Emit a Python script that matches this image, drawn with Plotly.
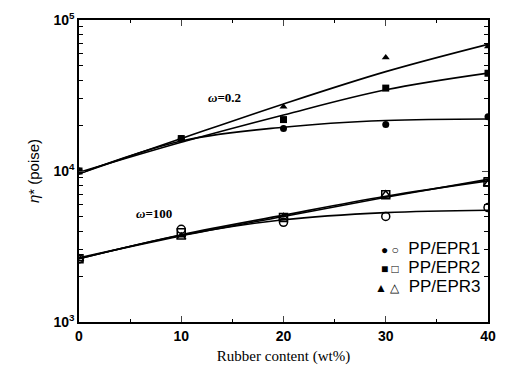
import plotly.graph_objects as go

x = [0, 10, 20, 30, 40]

# omega = 0.2 data points (filled markers)
low_epr1 = [1.0e4, 1.64e4, 1.91e4, 2.03e4, 2.29e4]
low_epr2 = [1.0e4, 1.64e4, 2.19e4, 3.54e4, 4.44e4]
low_epr3 = [1.0e4, 1.64e4, 2.66e4, 5.65e4, 6.67e4]
# omega = 0.2 fitted curves
low_fit1 = [0.96e4, 1.58e4, 1.95e4, 2.16e4, 2.21e4]
low_fit2 = [0.98e4, 1.55e4, 2.35e4, 3.45e4, 4.45e4]
low_fit3 = [0.96e4, 1.64e4, 2.78e4, 4.55e4, 6.9e4]

# omega = 100 data points (open markers)
high_epr1 = [2.62e3, 4.11e3, 4.57e3, 5.0e3, 5.73e3]
high_epr2 = [2.62e3, 3.9e3, 4.93e3, 6.97e3, 8.47e3]
high_epr3 = [2.62e3, 3.65e3, 4.93e3, 6.97e3, 8.2e3]
# omega = 100 fitted curves
high_fit1 = [2.62e3, 3.75e3, 4.75e3, 5.3e3, 5.5e3]
high_fit2 = [2.62e3, 3.78e3, 5.1e3, 6.8e3, 8.6e3]
high_fit3 = [2.66e3, 3.72e3, 5.0e3, 6.7e3, 8.8e3]

legend_labels = ["PP/EPR1", "PP/EPR2", "PP/EPR3"]
y_major = [1e3, 1e4, 1e5]
y_major_text = ["<b>10<sup>3</sup></b>", "<b>10<sup>4</sup></b>", "<b>10<sup>5</sup></b>"]
y_minor = [d * m for d in [1e3, 1e4] for m in range(2, 10)]
x_ticks = [0, 10, 20, 30, 40]

fig = go.Figure()

for fit in [low_fit1, low_fit2, low_fit3, high_fit1, high_fit2, high_fit3]:
    fig.add_trace(go.Scatter(x=x, y=fit, mode="lines",
                             line=dict(color="black", width=1.6, shape="spline", smoothing=1.0),
                             showlegend=False, hoverinfo="skip"))

filled = [("circle", low_epr1), ("square", low_epr2), ("triangle-up", low_epr3)]
for sym, ys in filled:
    fig.add_trace(go.Scatter(x=x, y=ys, mode="markers",
                             marker=dict(symbol=sym, size=7, color="black"),
                             showlegend=False))

opened = [("circle-open", high_epr1), ("square-open", high_epr2), ("triangle-up-open", high_epr3)]
for sym, ys in opened:
    fig.add_trace(go.Scatter(x=x, y=ys, mode="markers",
                             marker=dict(symbol=sym, size=8, color="black",
                                         line=dict(width=1.5, color="black")),
                             showlegend=False))

fig.update_layout(
    width=506, height=375,
    margin=dict(l=79, r=10, t=16, b=53),
    paper_bgcolor="white", plot_bgcolor="white",
    showlegend=False,
    font=dict(family="Arial, Liberation Sans", color="black"),
    xaxis=dict(range=[0, 40], tickvals=x_ticks, ticktext=[f"<b>{v}</b>" for v in x_ticks],
               ticks="inside", ticklen=6,
               tickwidth=1.2, showline=True, linecolor="black", linewidth=1.5, mirror="ticks",
               showgrid=False, zeroline=False,
               tickfont=dict(size=14, family="Liberation Sans", color="black"),
               minor=dict(dtick=5, tick0=0, ticks="inside", ticklen=3, tickcolor="black"),
               title=dict(text="Rubber content (wt%)", standoff=8,
                          font=dict(size=15, family="Liberation Serif, Times New Roman"))),
    yaxis=dict(type="log", range=[3, 5], tickvals=y_major, ticktext=y_major_text, ticks="inside",
               ticklen=6, tickwidth=1.2, showline=True, linecolor="black", linewidth=1.5,
               mirror="ticks", showgrid=False, zeroline=False,
               tickfont=dict(size=14, family="Liberation Sans", color="black"),
               minor=dict(tickvals=y_minor, ticks="inside", ticklen=4, tickcolor="black"),
               title=dict(text="<i>η</i>* (poise)", standoff=10,
                          font=dict(size=15, family="Liberation Sans"))),
)

fig.add_annotation(x=14.2, y=4.484, xref="x", yref="y", text="<b><i>ω</i>=0.2</b>",
                   showarrow=False, font=dict(size=13, family="Liberation Serif", color="black"))
fig.add_annotation(x=7.3, y=3.719, xref="x", yref="y", text="<b><i>ω</i>=100</b>",
                   showarrow=False, font=dict(size=13, family="Liberation Serif", color="black"))

syms = [("●", "○"), ("■", "□"), ("▲", "△")]
rows = [0.242, 0.180, 0.118]
for lab, (f, o), ry in zip(legend_labels, syms, rows):
    fig.add_annotation(x=0.985, y=ry, xref="paper", yref="paper",
                       xanchor="right", yanchor="middle", showarrow=False,
                       text=f"<span style='font-size:12px'>{f} {o}</span>  {lab}",
                       font=dict(size=17, family="Liberation Sans", color="black"))

fig.write_html("out.html")
